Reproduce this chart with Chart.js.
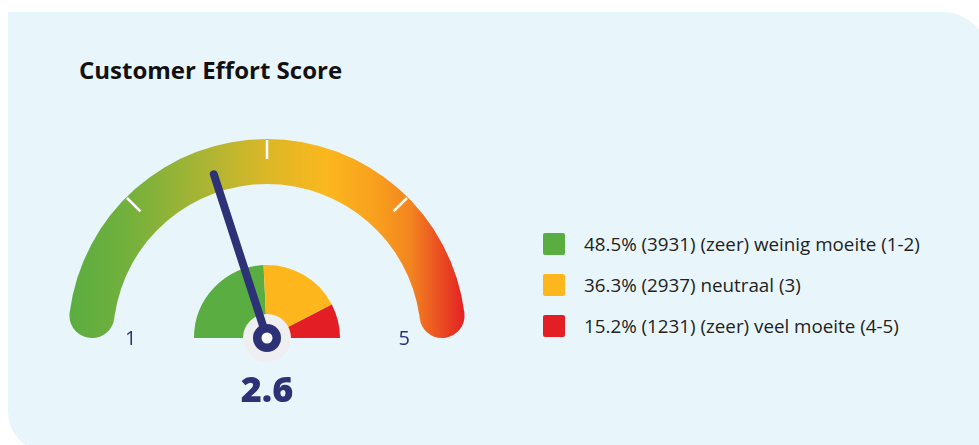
<!DOCTYPE html>
<html>
<head>
<meta charset="utf-8">
<script src="https://cdn.jsdelivr.net/npm/chart.js@4/dist/chart.umd.min.js"></script>
<style>
  html, body { margin: 0; padding: 0; width: 979px; height: 445px; overflow: hidden; background: #ffffff; font-family: "Open Sans", sans-serif; }
  #card { position: absolute; left: 8px; top: 12px; width: 980px; height: 440px; background: #e8f6fc; border-radius: 0 45px 0 40px; }
  #title { position: absolute; left: 79px; top: 58px; font-size: 24px; line-height: 24px; font-weight: 700; color: #111111; white-space: nowrap; }
  #wrap { position: absolute; left: 0; top: 0; width: 540px; height: 445px; }
  #legend { position: absolute; left: 543px; top: 233px; }
  .item { display: flex; align-items: center; height: 22px; margin-bottom: 19px; }
  .box { width: 22px; height: 22px; border-radius: 2px; margin-right: 19px; flex: none; }
  .lbl { font-size: 18.8px; line-height: 22px; color: #222222; white-space: nowrap; }
</style>
</head>
<body>
<div id="card"></div>
<div id="title">Customer Effort Score</div>
<div id="wrap"><canvas id="c"></canvas></div>
<div id="legend"></div>
<script>
// ---- data ----
const categories = ['(zeer) weinig moeite (1-2)', 'neutraal (3)', '(zeer) veel moeite (4-5)'];
const percentages = [48.5, 36.3, 15.2];
const counts = [3931, 2937, 1231];
const categoryColors = ['#5aad41', '#fdb71c', '#e31e24'];
const scoreValue = 2.6;
const scaleMin = 1;
const scaleMax = 5;
const scaleEndLabels = ['1', '5'];
const gaugeTickValues = [2, 3, 4];
const gradientStops = [
  [0.00, '#5aad41'],
  [0.15, '#72b03c'],
  [0.35, '#adb533'],
  [0.50, '#dcb727'],
  [0.65, '#fbb71e'],
  [0.78, '#f89e1d'],
  [0.86, '#f3851f'],
  [1.00, '#e31e24']
];

const NAVY = '#2d3176';

// HTML legend built from data
const legendEl = document.getElementById('legend');
categories.forEach((c, i) => {
  const row = document.createElement('div');
  row.className = 'item';
  const box = document.createElement('div');
  box.className = 'box';
  box.style.background = categoryColors[i];
  const lbl = document.createElement('div');
  lbl.className = 'lbl';
  lbl.textContent = percentages[i].toFixed(1) + '% (' + counts[i] + ') ' + c;
  row.appendChild(box); row.appendChild(lbl);
  legendEl.appendChild(row);
});

function gaugeGradient(ctx) {
  const chart = ctx.chart;
  const area = chart.chartArea;
  if (!area) return gradientStops[0][1];
  const g = chart.ctx.createLinearGradient(area.left, 0, area.right, 0);
  gradientStops.forEach(s => g.addColorStop(s[0], s[1]));
  return g;
}

const gaugeDecor = {
  id: 'gaugeDecor',
  afterDatasetsDraw(chart) {
    const ctx = chart.ctx;
    const arc = chart.getDatasetMeta(0).data[0];
    if (!arc) return;
    const p = arc.getProps(['x', 'y', 'outerRadius', 'innerRadius', 'startAngle', 'endAngle'], true);
    const cx = p.x, cy = p.y, R = p.outerRadius;
    const span = p.endAngle - p.startAngle;
    const ang = v => p.startAngle + (v - scaleMin) / (scaleMax - scaleMin) * span;

    ctx.save();
    // ticks
    ctx.strokeStyle = '#ffffff';
    ctx.lineWidth = 2.5;
    gaugeTickValues.forEach(v => {
      const a = ang(v);
      ctx.beginPath();
      ctx.moveTo(cx + Math.cos(a) * (R - 1), cy + Math.sin(a) * (R - 1));
      ctx.lineTo(cx + Math.cos(a) * (R - 20), cy + Math.sin(a) * (R - 20));
      ctx.stroke();
    });

    // end labels
    ctx.fillStyle = NAVY;
    ctx.font = '400 20px "Open Sans"';
    ctx.textAlign = 'center';
    ctx.textBaseline = 'alphabetic';
    const lr = R * 0.68;
    ctx.fillText(scaleEndLabels[0], cx + Math.cos(ang(scaleMin)) * lr - 1, cy + 7);
    ctx.fillText(scaleEndLabels[1], cx + Math.cos(ang(scaleMax)) * lr + 2, cy + 7);

    // hub background
    ctx.fillStyle = '#efeff1';
    ctx.beginPath(); ctx.arc(cx, cy, 24, 0, Math.PI * 2); ctx.fill();

    // needle
    const na = ang(scoreValue);
    const L = R * 0.865;
    ctx.strokeStyle = NAVY;
    ctx.lineWidth = 8;
    ctx.lineCap = 'round';
    ctx.beginPath();
    ctx.moveTo(cx, cy);
    ctx.lineTo(cx + Math.cos(na) * L, cy + Math.sin(na) * L);
    ctx.stroke();

    // pivot
    ctx.fillStyle = NAVY;
    ctx.beginPath(); ctx.arc(cx, cy, 14, 0, Math.PI * 2); ctx.fill();
    ctx.fillStyle = '#ffffff';
    ctx.beginPath(); ctx.arc(cx, cy, 5.5, 0, Math.PI * 2); ctx.fill();

    // value
    ctx.fillStyle = NAVY;
    ctx.font = '800 36px "Open Sans"';
    ctx.textAlign = 'center';
    ctx.fillText(scoreValue.toFixed(1), cx, cy + 64);
    ctx.restore();
  }
};

new Chart(document.getElementById('c'), {
  type: 'doughnut',
  data: {
    labels: categories,
    datasets: [
      {
        label: 'gauge',
        data: [scaleMax - scaleMin],
        backgroundColor: gaugeGradient,
        borderWidth: 0,
        borderRadius: 23,
        weight: 45
      },
      {
        label: 'spacer',
        data: [1],
        backgroundColor: 'rgba(0,0,0,0)',
        borderWidth: 0,
        weight: 81
      },
      {
        label: 'verdeling',
        data: percentages,
        backgroundColor: categoryColors,
        borderWidth: 0,
        weight: 73
      }
    ]
  },
  plugins: [gaugeDecor],
  options: {
    responsive: true,
    maintainAspectRatio: false,
    animation: false,
    events: [],
    rotation: -90,
    circumference: 180,
    cutout: 0,
    layout: { padding: { left: 68, right: 74, top: 139, bottom: 107 } },
    plugins: {
      legend: { display: false },
      tooltip: { enabled: false },
      title: { display: false }
    }
  }
});
</script>
</body>
</html>
